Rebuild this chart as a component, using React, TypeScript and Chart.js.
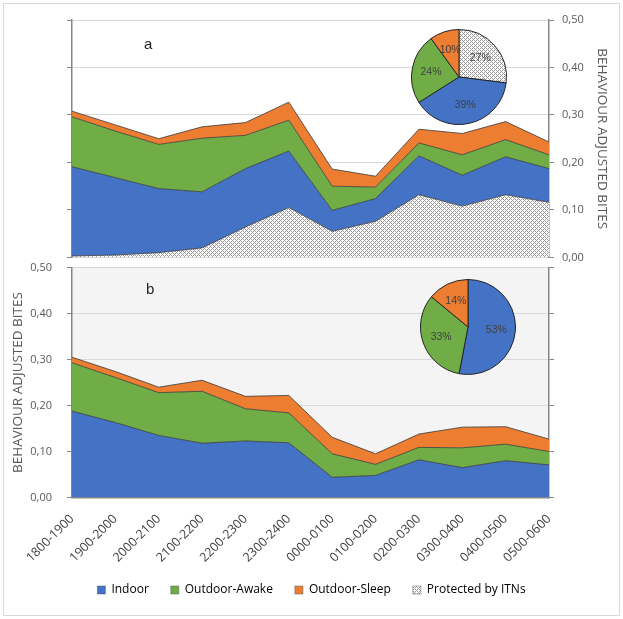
import React, { useEffect, useRef } from 'react';
import { Chart, registerables } from 'chart.js';

Chart.register(...registerables);

const categories = [
  '1800-1900', '1900-2000', '2000-2100', '2100-2200', '2200-2300', '2300-2400',
  '0000-0100', '0100-0200', '0200-0300', '0300-0400', '0400-0500', '0500-0600',
];
const indoor = [0.188, 0.163, 0.135, 0.118, 0.123, 0.119, 0.044, 0.048, 0.082, 0.065, 0.08, 0.071];
const outdoorAwake = [0.105, 0.098, 0.093, 0.113, 0.07, 0.065, 0.051, 0.024, 0.027, 0.043, 0.036, 0.029];
const outdoorSleep = [0.012, 0.013, 0.012, 0.024, 0.027, 0.038, 0.036, 0.023, 0.029, 0.045, 0.038, 0.027];
const protectedITN = [0.003, 0.005, 0.01, 0.02, 0.064, 0.105, 0.055, 0.076, 0.132, 0.108, 0.132, 0.116];

const pieTopNames = ['Protected by ITNs', 'Indoor', 'Outdoor-Awake', 'Outdoor-Sleep'];
const pieTopValues = [27, 39, 24, 10];
const pieBottomNames = ['Indoor', 'Outdoor-Awake', 'Outdoor-Sleep'];
const pieBottomValues = [53, 33, 14];

const legendNames = ['Indoor', 'Outdoor-Awake', 'Outdoor-Sleep', 'Protected by ITNs'];

const Y_MIN = 0;
const Y_MAX = 0.5;
const Y_STEP = 0.1;

const BLUE = '#4472c4';
const GREEN = '#70ad47';
const ORANGE = '#ed7d31';
const LINE = '#3a3a3a';
const AXIS = '#868686';
const GRID = '#d9d9d9';
const TICKTXT = '#595959';

function makeHatch(): CanvasPattern | string {
  const c = document.createElement('canvas');
  c.width = 4;
  c.height = 4;
  const g = c.getContext('2d');
  if (!g) return '#ccc';
  g.fillStyle = '#ffffff';
  g.fillRect(0, 0, 4, 4);
  g.fillStyle = '#9a9a9a';
  for (let x = 0; x < 4; x++) {
    for (let y = 0; y < 4; y++) {
      if ((x + y) % 4 === 0 || (x - y + 4) % 4 === 0) g.fillRect(x, y, 1, 1);
    }
  }
  const p = g.createPattern(c, 'repeat');
  return p || '#ccc';
}

const fmt = (v: number | string) => Number(v).toFixed(2).replace('.', ',');

const bgPlugin = (color: string) => ({
  id: 'areaBg',
  beforeDraw(chart: any) {
    const { ctx, chartArea } = chart;
    ctx.save();
    ctx.fillStyle = color;
    ctx.fillRect(chartArea.left, chartArea.top, chartArea.right - chartArea.left, chartArea.bottom - chartArea.top);
    ctx.restore();
  },
});

const pieLabelPlugin = {
  id: 'pieLabels',
  afterDatasetsDraw(chart: any) {
    const { ctx } = chart;
    const meta = chart.getDatasetMeta(0);
    const data = chart.data.datasets[0].data as number[];
    ctx.save();
    ctx.font = '10.5px "Liberation Sans", Arial, sans-serif';
    ctx.fillStyle = '#404040';
    ctx.textAlign = 'center';
    ctx.textBaseline = 'middle';
    meta.data.forEach((arc: any, i: number) => {
      const { x, y, startAngle, endAngle, outerRadius } = arc.getProps(['x', 'y', 'startAngle', 'endAngle', 'outerRadius'], true);
      const mid = (startAngle + endAngle) / 2;
      const r = outerRadius * 0.6;
      ctx.fillText(`${data[i]}%`, x + Math.cos(mid) * r, y + Math.sin(mid) * r);
    });
    ctx.restore();
  },
};

const lineDs = (label: string, data: number[], color: any, fill: any, yAxisID: string) => ({
  label,
  data,
  backgroundColor: color,
  borderColor: LINE,
  borderWidth: 0.8,
  pointRadius: 0,
  tension: 0,
  fill,
  yAxisID,
});

export default function App() {
  const topRef = useRef<HTMLCanvasElement>(null);
  const botRef = useRef<HTMLCanvasElement>(null);
  const pieTopRef = useRef<HTMLCanvasElement>(null);
  const pieBotRef = useRef<HTMLCanvasElement>(null);

  useEffect(() => {
    const hatch = makeHatch();
    const charts: Chart[] = [];
    const tickFont = { family: '"Open Sans", sans-serif', size: 11 };
    const titleFont = { family: '"Open Sans", sans-serif', size: 13.5 };

    const yBase = {
      min: Y_MIN,
      max: Y_MAX,
      stacked: true,
    };

    // Top panel (a)
    if (topRef.current) {
      charts.push(
        new Chart(topRef.current, {
          type: 'line',
          data: {
            labels: categories,
            datasets: [
              lineDs('Protected by ITNs', protectedITN, hatch, 'origin', 'yL'),
              lineDs('Indoor', indoor, BLUE, '-1', 'yL'),
              lineDs('Outdoor-Awake', outdoorAwake, GREEN, '-1', 'yL'),
              lineDs('Outdoor-Sleep', outdoorSleep, ORANGE, '-1', 'yL'),
            ],
          },
          options: {
            responsive: false,
            animation: false,
            layout: { padding: { top: 20, bottom: 14, left: 0, right: 0 } },
            plugins: { legend: { display: false }, tooltip: { enabled: false } },
            scales: {
              x: { type: 'category', display: false, offset: false },
              yL: {
                ...yBase,
                position: 'left',
                ticks: { display: false, stepSize: Y_STEP },
                grid: { color: GRID, tickColor: AXIS, tickLength: 5, lineWidth: 1 },
                border: { color: AXIS, width: 1.5 },
                afterFit: (s: any) => { s.width = 72; },
              },
              yR: {
                ...yBase,
                stacked: false,
                position: 'right',
                ticks: { stepSize: Y_STEP, color: TICKTXT, font: tickFont, padding: 8, callback: (v: any) => fmt(v) },
                grid: { drawOnChartArea: false, tickColor: AXIS, tickLength: 5 },
                border: { color: AXIS, width: 1.5 },
                title: { display: true, text: 'BEHAVIOUR ADJUSTED BITES', color: TICKTXT, font: titleFont, padding: { top: 13 } },
                afterFit: (s: any) => { s.width = 74; },
              },
            },
          },
          plugins: [bgPlugin('#ffffff')],
        } as any)
      );
    }

    // Bottom panel (b)
    if (botRef.current) {
      charts.push(
        new Chart(botRef.current, {
          type: 'line',
          data: {
            labels: categories,
            datasets: [
              lineDs('Indoor', indoor, BLUE, 'origin', 'y'),
              lineDs('Outdoor-Awake', outdoorAwake, GREEN, '-1', 'y'),
              lineDs('Outdoor-Sleep', outdoorSleep, ORANGE, '-1', 'y'),
            ],
          },
          options: {
            responsive: false,
            animation: false,
            layout: { padding: { top: 12, bottom: 13, left: 0, right: 0 } },
            plugins: {
              tooltip: { enabled: false },
              legend: {
                display: true,
                position: 'bottom',
                labels: {
                  boxWidth: 8,
                  boxHeight: 8,
                  padding: 22,
                  color: '#404040',
                  font: { family: '"Open Sans", sans-serif', size: 12 },
                  generateLabels: () =>
                    legendNames.map((n, i) => ({
                      text: n,
                      fillStyle: [BLUE, GREEN, ORANGE, hatch][i],
                      strokeStyle: '#595959',
                      lineWidth: 0.5,
                      hidden: false,
                      datasetIndex: i,
                    })),
                },
              },
            },
            scales: {
              x: {
                type: 'category',
                offset: false,
                grid: { display: false },
                border: { color: AXIS, width: 1.5 },
                ticks: {
                  minRotation: 45,
                  maxRotation: 45,
                  autoSkip: false,
                  padding: 6,
                  color: '#404040',
                  font: { family: '"Open Sans", sans-serif', size: 12.5 },
                },
                afterFit: (s: any) => { s.height = 64.5; },
              },
              y: {
                ...yBase,
                position: 'left',
                ticks: { stepSize: Y_STEP, color: TICKTXT, font: tickFont, padding: 15, callback: (v: any) => fmt(v) },
                grid: { color: GRID, tickColor: AXIS, tickLength: 5 },
                border: { color: AXIS, width: 1.5 },
                title: { display: true, text: 'BEHAVIOUR ADJUSTED BITES', color: TICKTXT, font: titleFont, padding: { top: 10 } },
                afterFit: (s: any) => { s.width = 72; },
              },
              yR: {
                ...yBase,
                stacked: false,
                position: 'right',
                ticks: { display: false, stepSize: Y_STEP },
                grid: { drawOnChartArea: false, tickColor: AXIS, tickLength: 5 },
                border: { color: AXIS, width: 1.5 },
                afterFit: (s: any) => { s.width = 74; },
              },
            },
          },
          plugins: [bgPlugin('#f4f4f4')],
        } as any)
      );
    }

    const pieOpts = {
      responsive: false,
      animation: false,
      layout: { padding: 0 },
      plugins: { legend: { display: false }, tooltip: { enabled: false } },
    };

    if (pieTopRef.current) {
      charts.push(
        new Chart(pieTopRef.current, {
          type: 'pie',
          data: {
            labels: pieTopNames,
            datasets: [{ data: pieTopValues, backgroundColor: [hatch, BLUE, GREEN, ORANGE], borderColor: '#262626', borderWidth: 1 }],
          },
          options: pieOpts,
          plugins: [pieLabelPlugin],
        } as any)
      );
    }
    if (pieBotRef.current) {
      charts.push(
        new Chart(pieBotRef.current, {
          type: 'pie',
          data: {
            labels: pieBottomNames,
            datasets: [{ data: pieBottomValues, backgroundColor: [BLUE, GREEN, ORANGE], borderColor: '#262626', borderWidth: 1 }],
          },
          options: pieOpts,
          plugins: [pieLabelPlugin],
        } as any)
      );
    }

    return () => charts.forEach((c) => c.destroy());
  }, []);

  const panelLabel: React.CSSProperties = {
    position: 'absolute',
    font: '15px "Liberation Sans", Arial, sans-serif',
    color: '#262626',
    lineHeight: '15px',
  };

  return (
    <div style={{ position: 'absolute', left: 0, top: 0, width: 623, height: 619, background: '#ffffff', overflow: 'hidden' }}>
      <div style={{ position: 'absolute', left: 3, top: 3, width: 615, height: 611, border: '1px solid #d9d9d9' }} />
      <canvas ref={botRef} width={623} height={373} style={{ position: 'absolute', left: 0, top: 246 }} />
      <canvas ref={topRef} width={623} height={272} style={{ position: 'absolute', left: 0, top: 0 }} />
      <div style={{ ...panelLabel, left: 144, top: 36 }}>a</div>
      <div style={{ ...panelLabel, left: 146, top: 281 }}>b</div>
      <canvas ref={pieTopRef} width={96} height={96} style={{ position: 'absolute', left: 411, top: 29 }} />
      <canvas ref={pieBotRef} width={96} height={96} style={{ position: 'absolute', left: 420, top: 279 }} />
    </div>
  );
}
